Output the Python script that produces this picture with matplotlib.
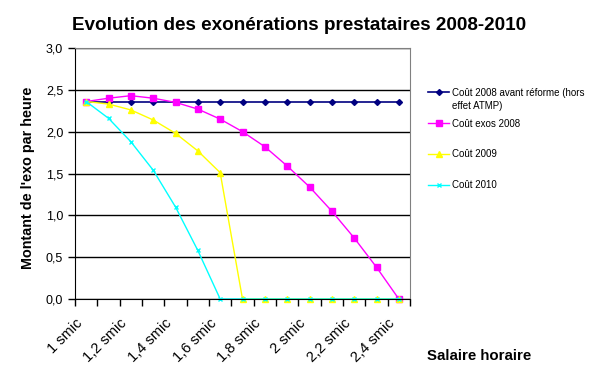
import numpy as np
import matplotlib.pyplot as plt
from matplotlib.ticker import MultipleLocator, FuncFormatter
from matplotlib.transforms import offset_copy

plt.rcParams['font.family'] = ['Liberation Sans', 'DejaVu Sans']

# salaire horaire en multiples du smic (1,0 -> 2,4)
smic = [1.0, 1.1, 1.2, 1.3, 1.4, 1.5, 1.6, 1.7, 1.8, 1.9, 2.0, 2.1, 2.2, 2.3, 2.4]
tick_labels = ['1 smic', '', '1,2 smic', '', '1,4 smic', '', '1,6 smic', '', '1,8 smic', '',
               '2 smic', '', '2,2 smic', '', '2,4 smic']

cout_2008_avant = [2.36] * 15
cout_exos_2008 = [2.36, 2.40, 2.43, 2.40, 2.35, 2.27, 2.15, 2.00, 1.82, 1.59, 1.34, 1.05, 0.73, 0.38, 0.0]
cout_2009 = [2.36, 2.33, 2.26, 2.14, 1.98, 1.77, 1.51, 0, 0, 0, 0, 0, 0, 0, 0]
cout_2010 = [2.36, 2.16, 1.88, 1.54, 1.10, 0.58, 0, 0, 0, 0, 0, 0, 0, 0, 0]

labels = ['Coût 2008 avant réforme (hors', 'Coût exos 2008', 'Coût 2009', 'Coût 2010']
label_suite = 'effet ATMP)'

fig = plt.figure(figsize=(5.96, 3.72), dpi=100)
ax = fig.add_axes([75/596, 1 - 299/372, 335/596, 251/372])

x = np.arange(len(smic))
ax.plot(x, cout_2008_avant, color='#000080', lw=1.2, marker='D', ms=3, label=labels[0], clip_on=False)
ax.plot(x, cout_exos_2008, color='#FF00FF', lw=1, marker='s', ms=4.5, label=labels[1], clip_on=False)
ax.plot(x, cout_2009, color='#FFFF00', lw=1, marker='^', ms=4.5, label=labels[2], clip_on=False)
ax.plot(x, cout_2010, color='#00FFFF', lw=1, marker='x', ms=3, mew=1, label=labels[3], clip_on=False)

ax.set_xlim(-0.5, len(smic) - 0.5)
ax.set_ylim(0, 3)
ax.yaxis.set_major_locator(MultipleLocator(0.5))
ax.yaxis.set_major_formatter(FuncFormatter(lambda v, p: ('%.1f' % v).replace('.', ',')))
ax.grid(axis='y', color='black', lw=1)
ax.set_axisbelow(True)

# ticks between categories
ax.set_xticks(np.arange(-0.5, len(smic), 1))
ax.set_xticklabels([])
ax.tick_params(axis='x', length=5, direction='out', width=1)
ax.tick_params(axis='y', length=5, direction='out', labelsize=9, width=1)

# category labels, rotated like excel
lbl_trans = offset_copy(ax.get_xaxis_transform(), fig=fig, x=-11, y=-17, units='dots')
for i, t in zip(x, tick_labels):
    if t:
        ax.text(i, 0, t, transform=lbl_trans, rotation=45, ha='right', va='top',
                rotation_mode='anchor', fontsize=10.5)

for s in ['top', 'right']:
    ax.spines[s].set_color('#808080')
for s in ['left', 'bottom']:
    ax.spines[s].set_color('black')

fig.text(299/596, 1 - 25/372, 'Evolution des exonérations prestataires 2008-2010',
         ha='center', va='center', fontsize=13.6, fontweight='bold')
fig.text(28/596, 1 - 178/372, "Montant de l'exo par heure", rotation=90,
         ha='center', va='center', fontsize=10.4, fontweight='bold')
fig.text(479/596, 1 - 356/372, 'Salaire horaire', ha='center', va='center',
         fontsize=10.8, fontweight='bold')

leg = ax.legend(loc='center left', bbox_to_anchor=(423/596, 1 - 139/372), bbox_transform=fig.transFigure,
                frameon=False, fontsize=7, handlelength=2.2, handletextpad=0.3,
                labelspacing=2.15, borderpad=0)

# second line of the first legend entry, under its text
fig.canvas.draw()
bb = leg.get_texts()[0].get_window_extent()
fig.text(bb.x0 / fig.bbox.width, (bb.y0 - 13) / fig.bbox.height, label_suite,
         ha='left', va='bottom', fontsize=7)

fig.savefig('out.png', dpi=100)
